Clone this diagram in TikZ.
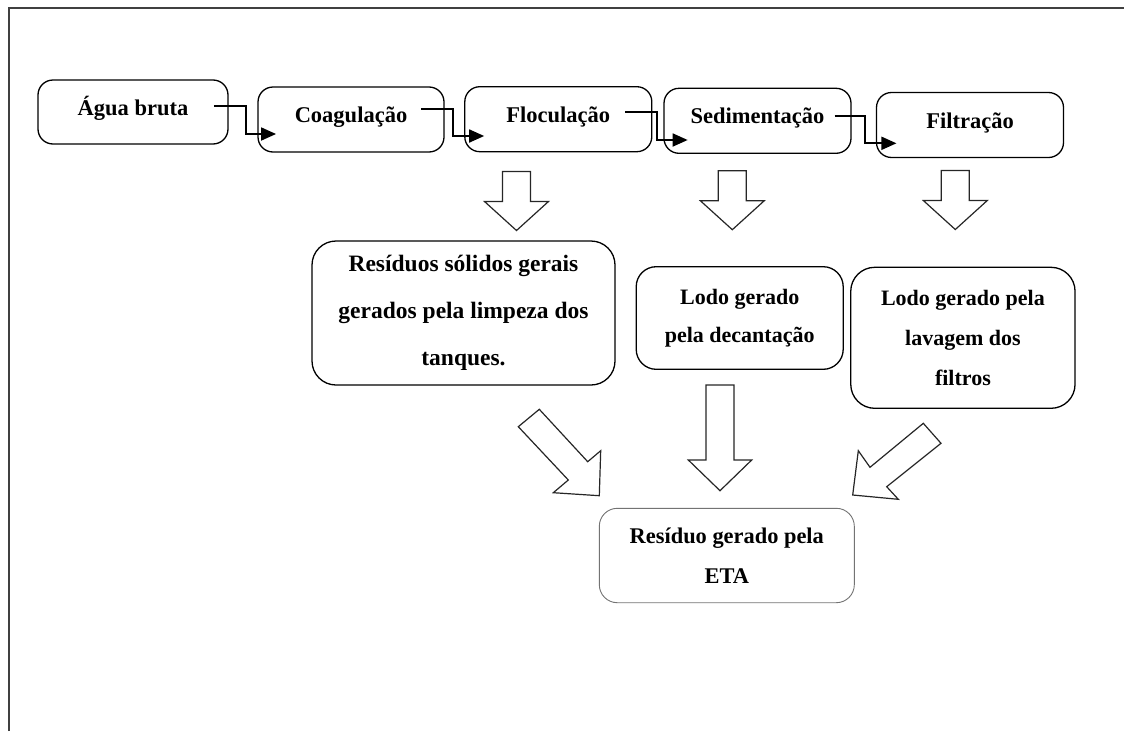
\documentclass[tikz,border=0pt]{standalone}
\usepackage{fontspec}
\setmainfont{Liberation Serif}
\usetikzlibrary{arrows.meta,calc}
\begin{document}
\begin{tikzpicture}[x=1pt,y=-1pt,
  topbox/.style={draw, line width=1.3pt, rounded corners=15pt, inner sep=0pt,
    font=\bfseries\fontsize{22.5}{27}\selectfont, text height=15pt, text depth=9pt},
  lowbox/.style={draw, line width=1.3pt, rounded corners=24pt, inner sep=0pt, align=center},
  conn/.style={line width=1.8pt, -{Triangle[length=15pt,width=13pt]}},
  blk/.style={draw=black!85, line width=1.2pt, fill=white, line join=miter},
  downblk/.pic={\draw[blk] (-14,0) -- (-14,30) -- (-32,30) -- (0,59) -- (32,30) -- (14,30) -- (14,0) -- cycle;}
]
\useasboundingbox (0,0) rectangle (1124,731);
% frame
\draw[black!75, line width=1.3pt] (9,731) -- (9,8) -- (1124,8);

% top row
\node[topbox, minimum width=190pt, minimum height=64pt] (agua) at (133,112) {Água bruta};
\node[topbox, minimum width=186pt, minimum height=65pt] (coag) at (351,119.5) {Coagulação};
\node[topbox, minimum width=187pt, minimum height=65pt] (floc) at (558.3,119.2) {Floculação};
\node[topbox, minimum width=187pt, minimum height=65pt] (sed) at (757.5,120.8) {Sedimentação};
\node[topbox, minimum width=187pt, minimum height=65pt] (filt) at (970,125) {Filtração};

% elbow connectors
\draw[conn] ([xshift=-14.7pt,yshift=6pt]agua.east) -- ++(31.7,0) |- ([xshift=18.7pt,yshift=-14.5pt]coag.west);
\draw[conn] ([xshift=-23.3pt,yshift=10.2pt]coag.east) -- ++(31.6,0) |- ([xshift=20pt,yshift=-16.8pt]floc.west);
\draw[conn] ([xshift=-27.4pt,yshift=6.9pt]floc.east) -- ++(31.7,0) |- ([xshift=24.3pt,yshift=-19.2pt]sed.west);
\draw[conn] ([xshift=-17pt,yshift=4.8pt]sed.east) -- ++(30.3,0) |- ([xshift=20.6pt,yshift=-18.3pt]filt.west);

% down block arrows
\pic at (516.5,171.5) {downblk};
\pic at (732.3,170.7) {downblk};
\pic at (955.3,170.5) {downblk};

% lower boxes
\node[lowbox, minimum width=303pt, minimum height=144pt,
  font=\bfseries\fontsize{23.5}{47}\selectfont] (resid) at (463.5,313)
  {Resíduos sólidos gerais\\gerados pela limpeza dos\\tanques.};
\node[lowbox, rounded corners=20pt, minimum width=207pt, minimum height=102.6pt,
  font=\bfseries\fontsize{22}{38.3}\selectfont] (decant) at (739.7,318)
  {Lodo gerado\\pela decantação};
\node[lowbox, minimum width=224.3pt, minimum height=141pt,
  font=\bfseries\fontsize{22}{40}\selectfont] (lavag) at (962.9,337.8)
  {Lodo gerado pela\\lavagem dos\\filtros};
\node[lowbox, draw=black!55, line width=0.9pt, rounded corners=18pt, minimum width=255pt, minimum height=94.4pt,
  font=\bfseries\fontsize{22.4}{40}\selectfont] (eta) at (726.8,555.5)
  {Resíduo gerado pela\\ETA};

% bottom block arrows
\draw[blk] (706,385) -- (706,460) -- (688.3,460) -- (720,490.7) -- (751.7,460) -- (734,460) -- (734,385) -- cycle;
\draw[blk] (539.3,409.3) -- (587.7,461.7) -- (600.7,450.7) -- (599.3,495.7) -- (553.3,492.7) -- (568.3,480) -- (518.3,426.7) -- cycle;
\draw[blk] (923.3,423.3) -- (870,467.3) -- (858.3,450.7) -- (852.7,495) -- (898.3,499.3) -- (886.7,486.7) -- (941,443.3) -- cycle;
\end{tikzpicture}
\end{document}
